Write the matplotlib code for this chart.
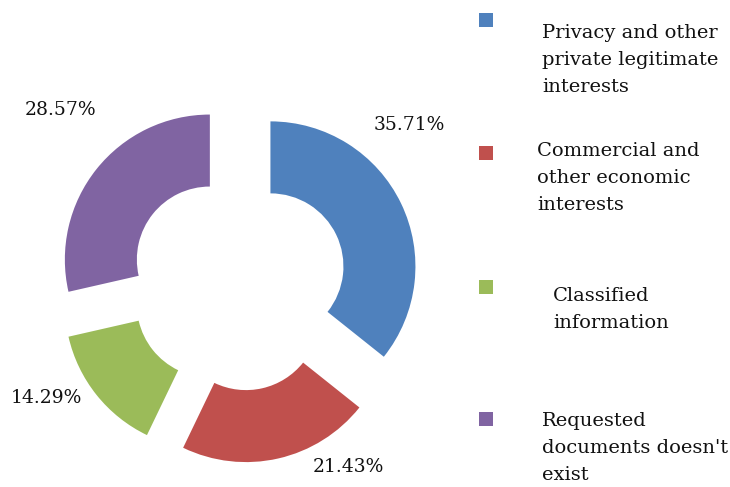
import matplotlib
matplotlib.use("Agg")
import matplotlib.pyplot as plt
from matplotlib.patches import Rectangle

categories = ["Privacy and other\nprivate legitimate\ninterests",
              "Commercial and\nother economic\ninterests",
              "Classified\ninformation",
              "Requested\ndocuments doesn't\nexist"]
values = [35.71, 21.43, 14.29, 28.57]
colors = ["#4F81BD", "#C0504D", "#9BBB59", "#8064A2"]

W, H = 730, 487
fig = plt.figure(figsize=(W / 100, H / 100), dpi=100)
ax = fig.add_axes([0, 0, 1, 1])

cx, cy, R = 238, H - 282, 145
ax.pie(values, colors=colors, startangle=90, counterclock=False,
       radius=R, center=(cx, cy), explode=[36] * len(values),
       wedgeprops=dict(width=72, linewidth=0), frame=True)
ax.set_xlim(0, W)
ax.set_ylim(0, H)
ax.set_aspect("equal")
ax.axis("off")

font = "DejaVu Serif"
# percentage labels (image pixel positions)
pct_pos = [(409, 125), (348, 467), (46, 398), (60, 110)]
for v, (x, y) in zip(values, pct_pos):
    ax.text(x, H - y, f"{v:.2f}%", ha="center", va="center",
            fontsize=13.5, family=font, color="#111111")

# legend
marker_y = [20, 153, 287, 419]
text_x = [542, 537, 553, 542]
text_y = [24, 142, 287, 412]
for c, lab, my, tx, ty in zip(colors, categories, marker_y, text_x, text_y):
    ax.add_patch(Rectangle((479, H - my - 7), 14, 14, color=c, lw=0))
    ax.text(tx, H - ty, lab, ha="left", va="top", fontsize=14,
            family=font, color="#111111", linespacing=1.66)

fig.savefig("out.png", dpi=100)
